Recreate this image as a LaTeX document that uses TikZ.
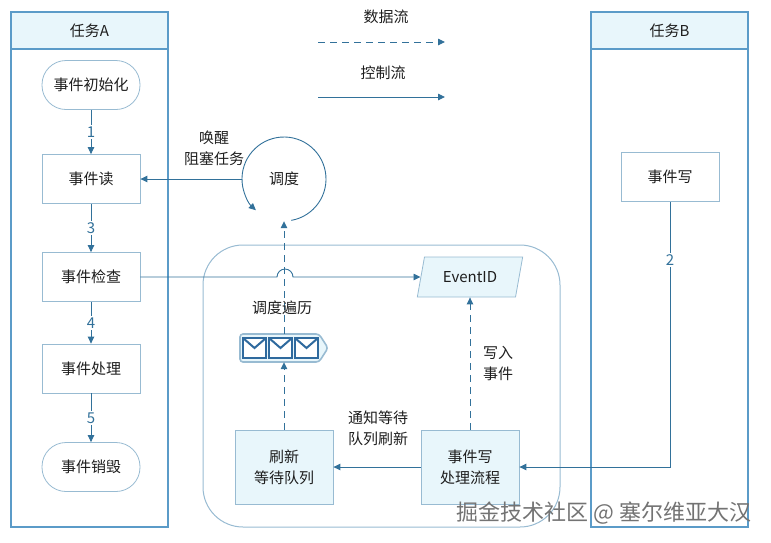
\documentclass[tikz,border=0pt]{standalone}
\usepackage{fontspec}
\setmainfont{Noto Sans CJK SC}
\usetikzlibrary{arrows.meta,shapes.geometric}
\definecolor{lanec}{HTML}{5B9BC8}
\definecolor{boxc}{HTML}{98BBD2}
\definecolor{headc}{HTML}{E8F6FB}
\definecolor{arrc}{HTML}{32719A}
\definecolor{txt}{HTML}{1E1E1E}
\definecolor{envc}{HTML}{2F6A9E}

\begin{document}
\begin{tikzpicture}[x=1pt,y=-1pt,
    every node/.style={font=\fontsize{15}{21}\selectfont, text=txt},
    box/.style={draw=boxc, line width=0.8pt, fill=white, minimum width=98, minimum height=49, align=center},
    endbox/.style={box, rounded corners=24},
    procbox/.style={box, fill=headc, minimum height=74},
    lanehead/.style={draw=lanec, line width=1.2pt, fill=headc, minimum width=157, minimum height=37},
    lane/.style={draw=lanec, line width=1.2pt},
    num/.style={fill=white, inner sep=1.5pt, text=arrc},
    ctrl/.style={draw=arrc, line width=0.9pt, -{Triangle[length=7pt,width=6.5pt]}},
    data/.style={ctrl, dash pattern=on 7pt off 5pt}]
    \useasboundingbox (0,0) rectangle (771,542);

    % Swim lanes of the two tasks
    \draw[lane] (11,12) rectangle (168,527);
    \node[lanehead] (laneA) at (89.5,30.5) {任务A};
    \draw[lane] (591,12) rectangle (748,527);
    \node[lanehead] (laneB) at (669.5,30.5) {任务B};

    % Legend
    \node (ldata) at (386,17) {数据流};
    \coordinate (d1) at (318,42);
    \coordinate (d2) at (445,42);
    \draw[data] (d1) -- (d2);
    \node (lctrl) at (383,73) {控制流};
    \coordinate (c1) at (318,97);
    \coordinate (c2) at (445,97);
    \draw[ctrl] (c1) -- (c2);

    % Steps of task A
    \node[endbox] (init) at (91,85) {事件初始化};
    \node[box] (read) at (91,179) {事件读};
    \node[box] (check) at (91,277) {事件检查};
    \node[box] (handle) at (91,368.5) {事件处理};
    \node[endbox] (destroy) at (91,467) {事件销毁};

    % Task B
    \node[box] (bwrite) at (670,177) {事件写};

    % Event module
    \draw[draw=boxc, line width=1pt, rounded corners=40] (203,245) rectangle (560,527);
    \node[trapezium, trapezium left angle=75, trapezium right angle=105, trapezium stretches=true,
          draw=boxc, line width=0.8pt, fill=headc, minimum width=106, minimum height=40] (eventid) at (470,277) {EventID};
    \node[procbox] (refresh) at (284,467) {刷新\\等待队列};
    \node[procbox] (wproc) at (470,467) {事件写\\处理流程};

    % Wait queue icon
    \node[minimum width=88, minimum height=28] (queue) at (284,348) {};
    \draw[draw=boxc, line width=1.6pt, fill=headc, rounded corners=3] (240,334) -- (319,334) -- (328,348) -- (319,362) -- (240,362) -- cycle;
    \foreach \x in {243,269,295} {
        \draw[draw=envc, line width=2pt, fill=white] (\x,338) rectangle ++(23,20);
        \draw[draw=envc, line width=2pt] (\x,338) -- ++(11.5,10) -- ++(11.5,-10);
    }

    % Scheduler
    \node[circle, minimum size=84] (sched) at (284,179) {调度};
    \draw[ctrl] (284,179) ++(80:42) arc[start angle=80, end angle=-228, radius=42];

    % Control flow
    \draw[ctrl] (init) -- node[num]{1} (read);
    \draw[ctrl] (read) -- node[num]{3} (check);
    \draw[ctrl] (check) -- node[num]{4} (handle);
    \draw[ctrl] (handle) -- node[num]{5} (destroy);
    \draw[ctrl] (sched) -- (read);
    \draw[ctrl] (check) -- (277,277) arc[start angle=180, end angle=360, radius=8] -- (eventid);
    \draw[ctrl] (wproc) -- (refresh);
    \draw[ctrl] (bwrite) |- (wproc) node[num, pos=0.11]{2};

    % Data flow
    \draw[data] (queue) -- (sched.south);
    \draw[data] (refresh) -- (queue);
    \draw[data] (wproc) -- (eventid);

    % Labels
    \node[align=center] (lwake) at (214,148) {唤醒\\阻塞任务};
    \node (lscan) at (282,308) {调度遍历};
    \node[align=center] (lput) at (498,363) {写入\\事件};
    \node[align=center] (lnotify) at (378,428) {通知等待\\队列刷新};

    % Watermark
    \node[font=\fontsize{22}{26}\selectfont, text=black!55] (mark) at (604,513) {掘金技术社区 @ 塞尔维亚大汉};
\end{tikzpicture}
\end{document}
